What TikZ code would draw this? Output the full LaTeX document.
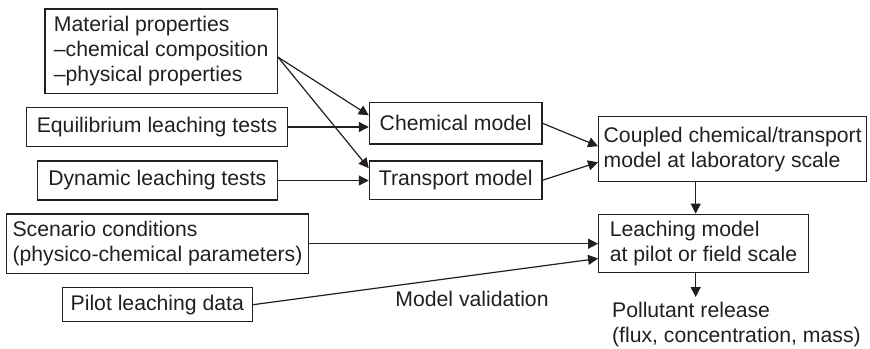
\documentclass[tikz,border=0pt]{standalone}
\usepackage{fontspec}
\setmainfont{Liberation Sans}
\usetikzlibrary{arrows.meta,calc}
\definecolor{ink}{HTML}{231F20}
\begin{document}
\begin{tikzpicture}[x=0.5pt,y=-0.5pt,
  box/.style={draw=ink,line width=0.65pt,inner sep=0pt,align=left,text=ink,font=\fontsize{10.6}{12.5}\selectfont},
  lbl/.style={inner sep=0pt,align=left,text=ink,font=\fontsize{10.6}{12.5}\selectfont},
  arr/.style={draw=ink,line width=0.6pt,-{Triangle[length=5pt,width=5pt]}}]
\useasboundingbox (0,0) rectangle (870,348);
\node[box,minimum width=116.2pt,minimum height=42.2pt] (mat) at (161.15,51.15) {Material properties\\–chemical composition\\–physical properties};
\node[box,minimum width=130.3pt,minimum height=19.7pt] (eq) at (157,127) {Equilibrium leaching tests};
\node[box,minimum width=120pt,minimum height=19.5pt] (dyn) at (157.3,180.5) {Dynamic leaching tests};
\node[box,minimum width=86.3pt,minimum height=20.7pt] (chem) at (455.7,123.3) {Chemical model};
\node[box,minimum width=86.3pt,minimum height=19.2pt] (trans) at (455.7,180.2) {Transport model};
\node[box,minimum width=134pt,minimum height=32.5pt] (coup) at (732.7,149.2) {Coupled chemical/transport\\model at laboratory scale};
\node[box,minimum width=104.8pt,minimum height=29.2pt] (leach) at (703.5,243.5) {Leaching model\\at pilot or field scale};
\node[box,minimum width=150.8pt,minimum height=29.7pt] (scen) at (157.5,243.7) {Scenario conditions\\(physico-chemical parameters)};
\node[box,minimum width=95pt,minimum height=17pt] (pilot) at (157.3,304.7) {Pilot leaching data};
\node[lbl,anchor=base west] (val) at (395,306) {Model validation};
\node[lbl,anchor=west] (poll) at (611.7,325) {Pollutant release\\(flux, concentration, mass)};
\coordinate (lx) at (695.7,0);
\coordinate (rel) at (695.7,297);
\draw[arr] ($(mat.east)+(0,6)$) -- ($(chem.west)+(0,-8)$);
\draw[arr] ($(mat.east)+(0,6)$) -- ($(trans.west)+(0,-12)$);
\draw[arr] (eq.east) -- (eq.east -| chem.west);
\draw[arr] (dyn.east) -- (dyn.east -| trans.west);
\draw[arr] (chem.east) -- ($(coup.west)+(0,-3)$);
\draw[arr] (trans.east) -- ($(coup.west)+(0,13)$);
\draw[arr] (coup.south -| lx) -- (leach.north -| lx);
\draw[arr] (scen.east) -- (scen.east -| leach.west);
\draw[arr] (pilot.east) -- ($(leach.west)+(0,15)$);
\draw[arr] (leach.south -| lx) -- (rel);
\end{tikzpicture}
\end{document}
